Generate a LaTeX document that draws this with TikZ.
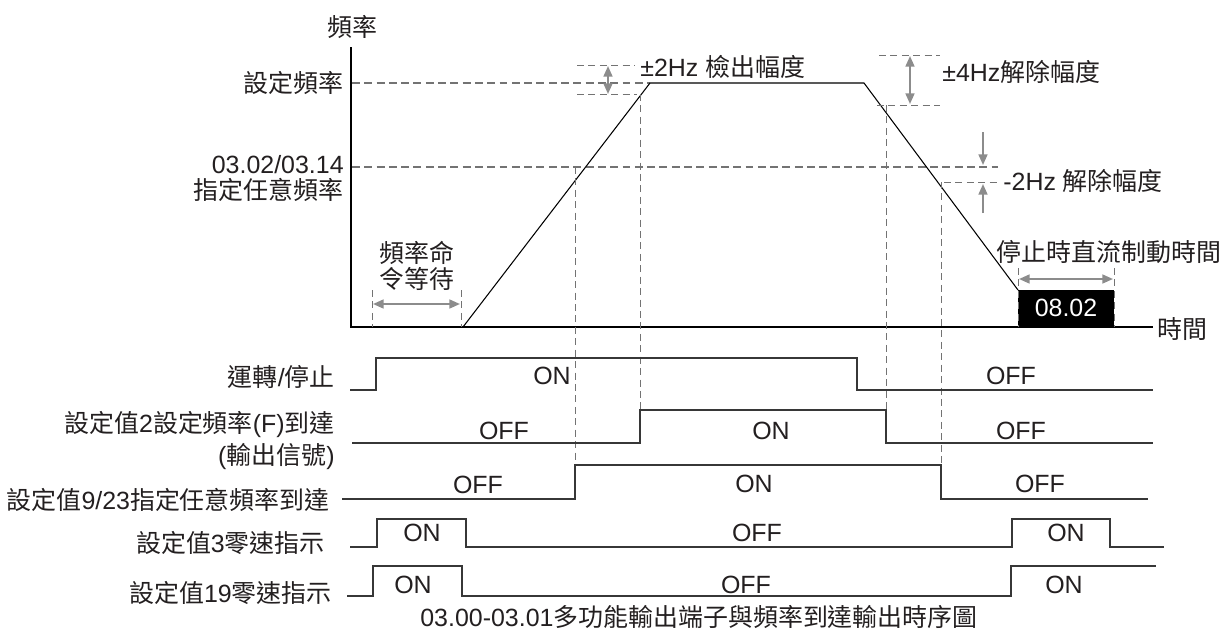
\documentclass[tikz,border=0pt]{standalone}
\usepackage{fontspec}
\setmainfont{Liberation Sans}
\newfontfamily\cjk{Noto Sans CJK TC}
\usetikzlibrary{arrows.meta,positioning}
\definecolor{timinggray}{RGB}{140,140,140}
\definecolor{timingdash}{RGB}{115,115,115}
\definecolor{timingtext}{RGB}{35,31,32}
\definecolor{timingline}{RGB}{55,55,55}

\begin{document}
\begin{tikzpicture}[x=0.02cm,y=-0.02cm,>=Stealth,line join=miter,
  lbl/.style={font=\fontsize{14.2}{14.5}\selectfont,text=timingtext,inner sep=0pt},
  sig/.style={timingline,line width=0.85pt},
  band/.style={timingdash,line width=1pt,dash pattern=on 4.5pt off 2.5pt},
  guide/.style={timingdash,line width=0.5pt,dash pattern=on 4pt off 2.5pt},
  gap/.style={<->,timinggray,line width=1.1pt,>={Triangle[length=6pt,width=5pt]}},
  tip/.style={->,timinggray,line width=1.1pt,>={Triangle[length=6pt,width=5pt]}}]
 \useasboundingbox (0,0) rectangle (1225,633);
 \draw[line width=1.6pt] (351,47)--(351,327)--(1153,327);
 \node[lbl] (freq) at (352,27) {\cjk 頻率};
 \node[lbl,anchor=west] (time) at (1157,329) {\cjk 時間};
 \node[lbl,anchor=east] (fset) at (344,83) {\cjk 設定頻率};
 \node[lbl,anchor=east] (fany) at (344,165) {03.02/03.14};
 \node[lbl,anchor=east] (fanyzh) at (344,190) {\cjk 指定任意頻率};
 \draw[band] (352,83)--(650,83);
 \draw[band] (352,167)--(998,167);
 \draw[line width=0.6pt] (463,327)--(650,83)--(864,83)--(1018,290);
 \foreach \x/\ya/\yb in {575/167/465,640/94/410,886/105/443,941/182/499}{
  \draw[guide] (\x,\ya)--(\x,\yb);
 }
 \draw[guide] (577,65)--(635,65);
 \draw[guide] (577,94)--(637,94);
 \draw[gap] (608,66)--(608,94);
 \node[lbl,anchor=west] (detect) at (640,67) {±2Hz {\cjk 檢出幅度}};
 \draw[guide] (879,55)--(940,55);
 \draw[guide] (877,105)--(940,105);
 \draw[gap] (910,56)--(910,104);
 \node[lbl,anchor=west] (release4) at (942,72) {±4Hz{\cjk 解除幅度}};
 \draw[guide] (944,182)--(998,182);
 \draw[tip] (983,132)--(983,165);
 \draw[tip] (983,213)--(983,184);
 \node[lbl,anchor=west] (release2) at (1003,181) {-2Hz {\cjk 解除幅度}};
 \draw[guide] (372,290)--(372,327);
 \draw[guide] (461,290)--(461,327);
 \draw[gap] (373,304)--(460,304);
 \node[lbl,align=center] (wait) at (417,266) {\cjk 頻率命\\\cjk 令等待};
 \fill[black] (1018,290) rectangle (1114,327);
 \node[lbl,text=white] (brake) at (1066,308) {08.02};
 \draw[guide] (1018,268)--(1018,327);
 \draw[guide] (1114,268)--(1114,327);
 \draw[gap] (1019,279)--(1113,279);
 \node[lbl] (braketxt) at (1109,252) {\cjk 停止時直流制動時間};
 \node[lbl,anchor=east] (run) at (335,377) {{\cjk 運轉}/{\cjk 停止}};
 \draw[sig] (350,390)--(376,390)--(376,358)--(857,358)--(857,390)--(1153,390);
 \node[lbl] at (552,376) {ON};
 \node[lbl] at (1011,376) {OFF};
 \node[lbl,anchor=east] (fok) at (335,425) {{\cjk 設定值}2{\cjk 設定頻率}(F){\cjk 到達}};
 \node[lbl,anchor=east] (fokout) at (335,457) {({\cjk 輸出信號})};
 \draw[sig] (352,443)--(640,443)--(640,410)--(886,410)--(886,443)--(1153,443);
 \node[lbl] at (504,431) {OFF};
 \node[lbl] at (771,431) {ON};
 \node[lbl] at (1021,431) {OFF};
 \node[lbl,anchor=east] (anyok) at (330,500) {{\cjk 設定值}9/23{\cjk 指定任意頻率到達}};
 \draw[sig] (342,499)--(575,499)--(575,465)--(941,465)--(941,499)--(1148,499);
 \node[lbl] at (478,485) {OFF};
 \node[lbl] at (754,484) {ON};
 \node[lbl] at (1040,484) {OFF};
 \node[lbl,anchor=east] (zero3) at (325,543) {{\cjk 設定值}3{\cjk 零速指示}};
 \draw[sig] (350,547)--(377,547)--(377,519)--(466,519)--(466,547)--(1012,547)--(1012,519)--(1110,519)--(1110,547)--(1164,547);
 \node[lbl] at (422,533) {ON};
 \node[lbl] at (757,533) {OFF};
 \node[lbl] at (1066,533) {ON};
 \node[lbl,anchor=east] (zero19) at (332,593) {{\cjk 設定值}19{\cjk 零速指示}};
 \draw[sig] (347,596)--(373,596)--(373,566)--(462,566)--(462,596)--(1011,596)--(1011,566)--(1156,566);
 \node[lbl] at (413,585) {ON};
 \node[lbl] at (746,585) {OFF};
 \node[lbl] at (1064,585) {ON};
 \node[lbl] (caption) at (699,617) {03.00-03.01{\cjk 多功能輸出端子與頻率到達輸出時序圖}};
\end{tikzpicture}
\end{document}
